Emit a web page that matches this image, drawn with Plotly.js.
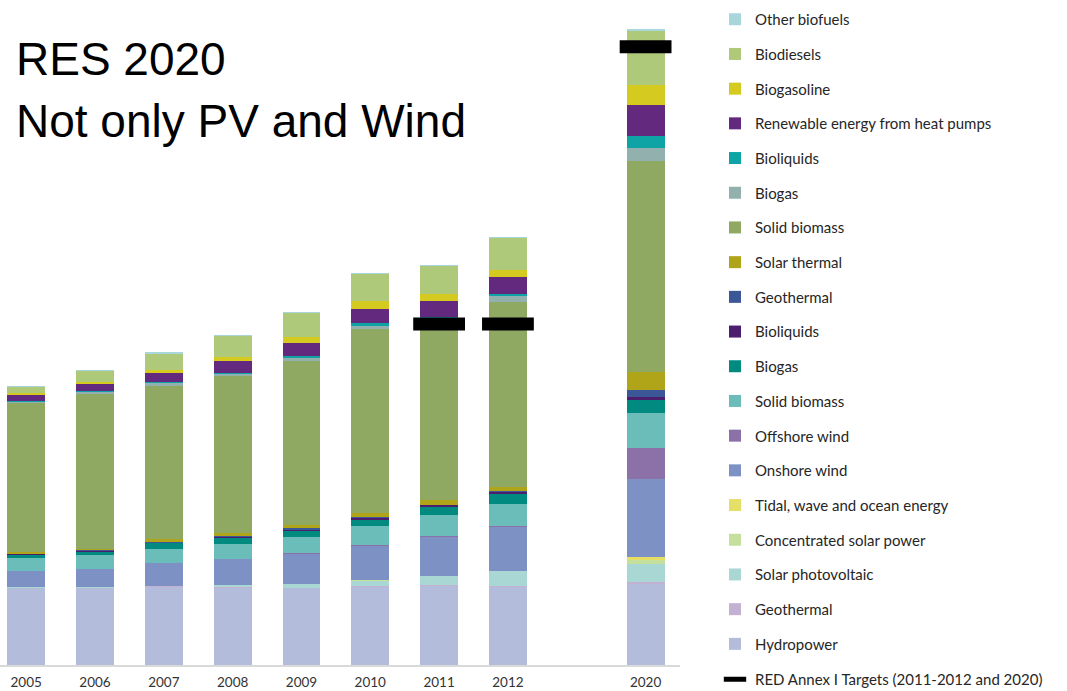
<!DOCTYPE html>
<html>
<head>
<meta charset="utf-8">
<script src="https://cdn.plot.ly/plotly-3.0.1.min.js"></script>
<style>html,body{margin:0;padding:0;background:#fff;}#chart{width:1067px;height:691px;}</style>
</head>
<body>
<div id="chart"></div>
<script>
// Categories (x positions index: 2005..2012 then a gap then 2020)
const years = ["2005","2006","2007","2008","2009","2010","2011","2012","2020"];
const xpos  = [0,1,2,3,4,5,6,7,9];

// Series values (Mtoe), bottom -> top stacking order
const hydropower        = [29.6,29.6,30.0,29.8,29.6,30.0,30.4,30.0,31.2];
const geothermalElec    = [0.2,0.2,0.2,0.2,0.2,0.2,0.2,0.2,0.6];
const solarPV           = [0.1,0.1,0.2,0.6,1.3,2.3,3.7,6.0,7.0];
const concSolar         = [0,0,0,0,0,0.1,0.1,0.1,1.7];
const tidalWaveOcean    = [0,0,0,0,0,0,0,0,0.9];
const onshoreWind       = [6.3,7.1,8.8,10.2,11.5,13.3,14.8,16.7,30.2];
const offshoreWind      = [0.1,0.1,0.1,0.1,0.3,0.4,0.4,0.4,11.8];
const solidBiomassElec  = [4.9,5.4,5.4,5.8,6.3,7.3,8.1,8.7,13.5];
const biogasElec        = [1.3,1.0,2.1,2.3,2.5,2.3,3.2,3.8,5.2];
const bioliquidsElec    = [0.2,0.4,0.3,0.4,0.4,0.5,0.5,0.5,1.0];
const geothermalHeat    = [0.1,0.2,0.2,0.2,0.5,0.5,0.2,0.4,2.8];
const solarThermal      = [0.6,0.6,1.0,1.0,1.3,1.7,1.8,1.5,6.8];
const solidBiomassHeat  = [57.3,59.6,59.2,60.4,63.1,70.6,68.8,71.5,81.0];
const biogasHeat        = [0.6,0.8,1.0,0.9,1.0,1.3,1.2,2.0,5.1];
const bioliquidsHeat    = [0.2,0.2,0.2,0.4,0.9,0.9,0.6,0.8,4.5];
const heatPumps         = [2.5,2.7,3.6,4.5,4.9,5.5,5.9,6.8,12.2];
const biogasoline       = [0.5,0.8,1.0,1.5,2.4,3.1,2.8,2.4,7.4];
const biodiesels        = [2.3,4.4,6.5,8.3,9.0,10.2,10.9,12.3,20.8];
const otherBiofuels     = [0.4,0.4,0.4,0.4,0.4,0.4,0.4,0.4,0.8];

// RED Annex I targets
const targetYears  = ["2011","2012","2020"];
const targetValues = [131.2,131.2,237.8];

const seriesNames = ["Hydropower","Geothermal","Solar photovoltaic","Concentrated solar power",
  "Tidal, wave and ocean energy","Onshore wind","Offshore wind","Solid biomass","Biogas","Bioliquids",
  "Geothermal","Solar thermal","Solid biomass","Biogas","Bioliquids","Renewable energy from heat pumps",
  "Biogasoline","Biodiesels","Other biofuels"];
const seriesData = [hydropower,geothermalElec,solarPV,concSolar,tidalWaveOcean,onshoreWind,offshoreWind,
  solidBiomassElec,biogasElec,bioliquidsElec,geothermalHeat,solarThermal,solidBiomassHeat,biogasHeat,
  bioliquidsHeat,heatPumps,biogasoline,biodiesels,otherBiofuels];
const seriesColors = ["#b3bcdb","#c3b1d2","#a9d7d4","#c5e09c","#e6df66","#7e91c4","#8c70a8","#6bbdba",
  "#008a80","#4b1f6d","#3b5797","#b0a518","#8fa862","#92b0ad","#0ea3a4","#63297f","#d5ca1f","#aec97a","#a9d6db"];

const W = 1067, H = 691;
const M = {l:0, r:387, t:10, b:26};
const plotW = W - M.l - M.r, plotH = H - M.t - M.b;
const pxX = px => (px - M.l) / plotW;
const pxY = py => (H - M.b - py) / plotH;

const legendFont = {family: "Lato, 'Open Sans', sans-serif", size: 15, color: "#262626"};

const traces = [];
seriesData.forEach((d, i) => {
  traces.push({
    type: "bar", x: xpos, y: d, name: seriesNames[i], legendgroup: "g" + i,
    legendrank: 100 - i,
    marker: {color: seriesColors[i], line: {width: 0}},
    width: 0.55
  });
});
traces.push({
  type: "scatter", mode: "markers",
  x: targetYears.map(y => xpos[years.indexOf(y)]), y: targetValues,
  name: "RED Annex I Targets (2011-2012 and 2020)",
  legend: "legend2",
  marker: {symbol: "line-ew", size: 37, color: "#000", line: {width: 13, color: "#000"}},
  hoverinfo: "y"
});

const layout = {
  width: W, height: H,
  margin: M,
  paper_bgcolor: "#fff", plot_bgcolor: "#fff",
  barmode: "stack",
  showlegend: true,
  legend: {
    traceorder: "grouped", tracegroupgap: 12.2, maxheight: 1,
    xref: "container", yref: "container", x: 715/W, y: 1 - 3/H, xanchor: "left", yanchor: "top",
    font: legendFont, bgcolor: "rgba(0,0,0,0)", itemclick: false
  },
  legend2: {
    maxheight: 1,
    xref: "container", yref: "container", x: 715/W, y: 1 - 663/H, xanchor: "left", yanchor: "top",
    font: legendFont, bgcolor: "rgba(0,0,0,0)", itemclick: false
  },
  xaxis: {
    range: [-0.38, 9.5], tickvals: xpos, ticktext: years, showgrid: false, zeroline: false,
    showline: true, linecolor: "#d9d9d9", linewidth: 2, ticks: "", ticklabelstandoff: 4,
    tickfont: {family: "Lato, 'Open Sans', sans-serif", size: 13.5, color: "#333"}
  },
  yaxis: {range: [0, plotH / 2.6], visible: false, showgrid: false, zeroline: false},
  annotations: [
    {text: "RES 2020", xref: "paper", yref: "paper", x: pxX(14), y: pxY(59), xanchor: "left", yanchor: "middle",
     showarrow: false, font: {family: "'Liberation Sans', Arial, sans-serif", size: 46, color: "#000"}},
    {text: "Not only PV and Wind", xref: "paper", yref: "paper", x: pxX(14), y: pxY(121), xanchor: "left", yanchor: "middle",
     showarrow: false, font: {family: "'Liberation Sans', Arial, sans-serif", size: 46, color: "#000"}}
  ]
};

Plotly.newPlot("chart", traces, layout, {staticPlot: true, displayModeBar: false});
</script>
</body>
</html>
